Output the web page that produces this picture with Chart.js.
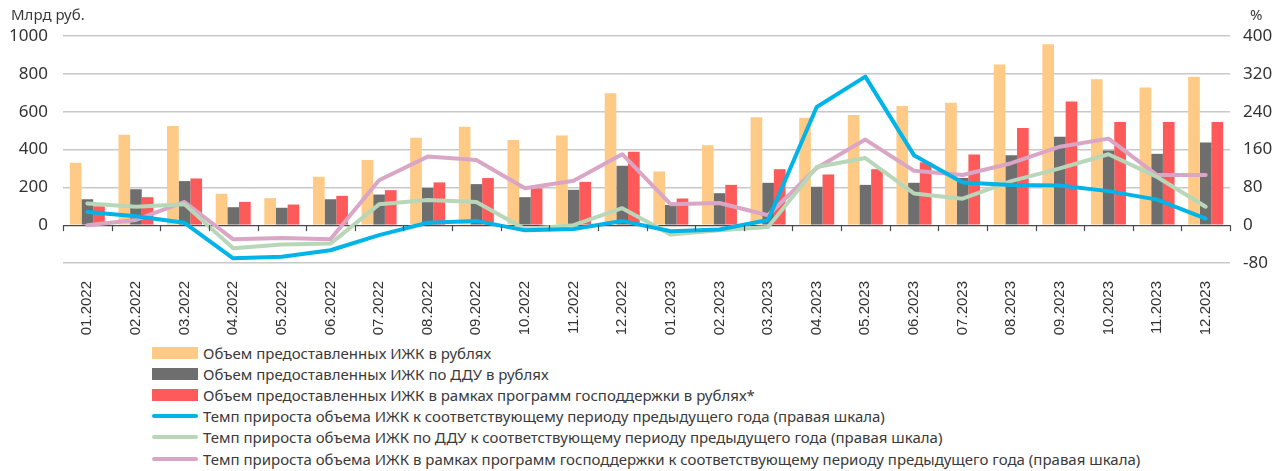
<!DOCTYPE html>
<html lang="ru">
<head>
<meta charset="utf-8">
<script src="https://cdn.jsdelivr.net/npm/chart.js@4/dist/chart.umd.min.js"></script>
<style>
  html, body { margin: 0; padding: 0; background: #fff; }
  body { width: 1282px; height: 471px; position: relative; overflow: hidden; }
  #wrap { position: absolute; left: 0; top: 0; width: 1282px; height: 340px; }
  #legend { position: absolute; left: 152px; top: 342px; font-family: "Noto Sans", sans-serif; font-size: 15px; color: #3a3a3a; }
  .item { display: flex; align-items: center; height: 21.2px; white-space: nowrap; }
  .sw { width: 46px; margin-right: 5px; }
</style>
</head>
<body>
<div id="wrap"><canvas id="izhkChart"></canvas></div>
<div id="legend"></div>
<script>
// периоды
const periods = ['01.2022', '02.2022', '03.2022', '04.2022', '05.2022', '06.2022',
                 '07.2022', '08.2022', '09.2022', '10.2022', '11.2022', '12.2022',
                 '01.2023', '02.2023', '03.2023', '04.2023', '05.2023', '06.2023',
                 '07.2023', '08.2023', '09.2023', '10.2023', '11.2023', '12.2023'];

// объемы, млрд руб.
const volumeTotal = [330, 478, 524, 166, 143, 256, 344, 462, 520, 450, 474, 698,
                     284, 423, 571, 568, 582, 630, 647, 850, 956, 771, 728, 785];
const volumeDdu = [137, 190, 233, 95, 92, 137, 162, 197, 217, 148, 187, 314,
                   107, 169, 224, 203, 213, 224, 250, 370, 467, 395, 377, 437];
const volumeGov = [100, 148, 247, 123, 109, 155, 185, 226, 249, 195, 229, 388,
                   141, 213, 296, 268, 296, 332, 374, 513, 654, 545, 545, 545];

// темпы прироста, %
const growthTotal = [28, 19, 5, -70, -67, -53, -21, 5, 9, -11, -8, 9,
                     -13, -9, 11, 250, 314, 148, 90, 85, 84, 72, 54, 14];
const growthDdu = [46, 39, 44, -49, -41, -39, 44, 53, 49, -8, 0, 36,
                   -20, -11, -4, 123, 142, 67, 56, 93, 120, 150, 102, 39];
const growthGov = [0, 11, 49, -30, -27, -30, 95, 145, 138, 78, 94, 150,
                   44, 47, 21, 121, 181, 115, 106, 131, 166, 183, 106, 106];

const leftTicks = [-200, 0, 200, 400, 600, 800, 1000];
const rightTicks = [-80, 0, 80, 160, 240, 320, 400];

const barOpts = { type: 'bar', yAxisID: 'y', order: 2, borderWidth: 0,
                  categoryPercentage: 0.72, barPercentage: 1.0 };
const lineOpts = { type: 'line', yAxisID: 'y1', order: 1, borderWidth: 4, tension: 0,
                   pointRadius: 0, fill: false, borderCapStyle: 'round', borderJoinStyle: 'round' };

// нулевая линия с засечками и подписи осей
const axisExtras = {
    id: 'axisExtras',
    afterDatasetsDraw(chart) {
        const { ctx, scales: { x, y } } = chart;
        const y0 = y.getPixelForValue(0);
        const step = x.getPixelForValue(1) - x.getPixelForValue(0);
        ctx.save();
        ctx.strokeStyle = '#4a4a4a';
        ctx.lineWidth = 1.2;
        for (let i = 0; i <= periods.length; i++) {
            const px = Math.round(x.getPixelForValue(0) - step / 2 + i * step) + 0.5;
            ctx.beginPath();
            ctx.moveTo(px, y0);
            ctx.lineTo(px, y0 + 6);
            ctx.stroke();
        }
        ctx.restore();
    },
    afterDraw(chart) {
        const { ctx, chartArea } = chart;
        ctx.save();
        ctx.fillStyle = '#3a3a3a';
        ctx.font = '15px "Noto Sans", sans-serif';
        ctx.textAlign = 'left';
        ctx.fillText('Млрд руб.', 11, chartArea.top - 16);
        ctx.fillText('%', 1250, chartArea.top - 16);
        ctx.restore();
    }
};

const chart = new Chart(document.getElementById('izhkChart').getContext('2d'), {
    data: {
        labels: periods,
        datasets: [
            { ...barOpts, label: 'Объем предоставленных ИЖК в рублях', data: volumeTotal, backgroundColor: '#FFCA86' },
            { ...barOpts, label: 'Объем предоставленных ИЖК по ДДУ в рублях', data: volumeDdu, backgroundColor: '#6E6E6E' },
            { ...barOpts, label: 'Объем предоставленных ИЖК в рамках программ господдержки в рублях*', data: volumeGov, backgroundColor: '#FF5A5A' },
            { ...lineOpts, label: 'Темп прироста объема ИЖК к соответствующему периоду предыдущего года (правая шкала)', data: growthTotal, borderColor: '#00B4E8', order: 0 },
            { ...lineOpts, label: 'Темп прироста объема ИЖК по ДДУ к соответствующему периоду предыдущего года (правая шкала)', data: growthDdu, borderColor: '#B8D6B8' },
            { ...lineOpts, label: 'Темп прироста объема ИЖК в рамках программ господдержки к соответствующему периоду предыдущего года (правая шкала)', data: growthGov, borderColor: '#D9A6C6' }
        ]
    },
    options: {
        responsive: true,
        maintainAspectRatio: false,
        animation: false,
        layout: { padding: { top: 36, left: 0, right: 0, bottom: 0 } },
        plugins: { legend: { display: false }, tooltip: { enabled: false } },
        scales: {
            x: {
                grid: { display: false },
                border: { display: false },
                ticks: {
                    autoSkip: false, minRotation: 90, maxRotation: 90, padding: 10,
                    color: '#333', font: { family: '"Liberation Sans", Arial, sans-serif', size: 15 }
                },
                afterFit: (scale) => { scale.height = 77; }
            },
            y: {
                position: 'left',
                min: -200, max: 1000,
                afterBuildTicks: (scale) => { scale.ticks = leftTicks.map(v => ({ value: v })); },
                grid: {
                    drawTicks: false,
                    color: (c) => c.tick && c.tick.value === 0 ? '#4a4a4a' : '#c8c8c8',
                    lineWidth: (c) => c.tick && c.tick.value === 0 ? 1.2 : 1.5
                },
                border: { display: false },
                ticks: {
                    padding: 15, color: '#333',
                    font: { family: '"Noto Sans", sans-serif', size: 17 },
                    callback: (v) => v === -200 ? '' : String(v)
                },
                afterFit: (scale) => { scale.width = 63; }
            },
            y1: {
                position: 'right',
                min: -80, max: 400,
                afterBuildTicks: (scale) => { scale.ticks = rightTicks.map(v => ({ value: v })); },
                grid: { display: false, drawTicks: false },
                border: { display: false },
                ticks: {
                    padding: 13, color: '#333',
                    font: { family: '"Noto Sans", sans-serif', size: 17 },
                    callback: (v) => String(v)
                },
                afterFit: (scale) => { scale.width = 52; }
            }
        }
    },
    plugins: [axisExtras]
});

// легенда в один столбец
const legendEl = document.getElementById('legend');
chart.data.datasets.forEach((ds) => {
    const row = document.createElement('div');
    row.className = 'item';
    const sw = document.createElement('span');
    sw.className = 'sw';
    if (ds.type === 'bar') {
        sw.style.height = '12px';
        sw.style.background = ds.backgroundColor;
    } else {
        sw.style.height = '4px';
        sw.style.borderRadius = '2px';
        sw.style.background = ds.borderColor;
    }
    const txt = document.createElement('span');
    txt.textContent = ds.label;
    row.appendChild(sw);
    row.appendChild(txt);
    legendEl.appendChild(row);
});
</script>
</body>
</html>
